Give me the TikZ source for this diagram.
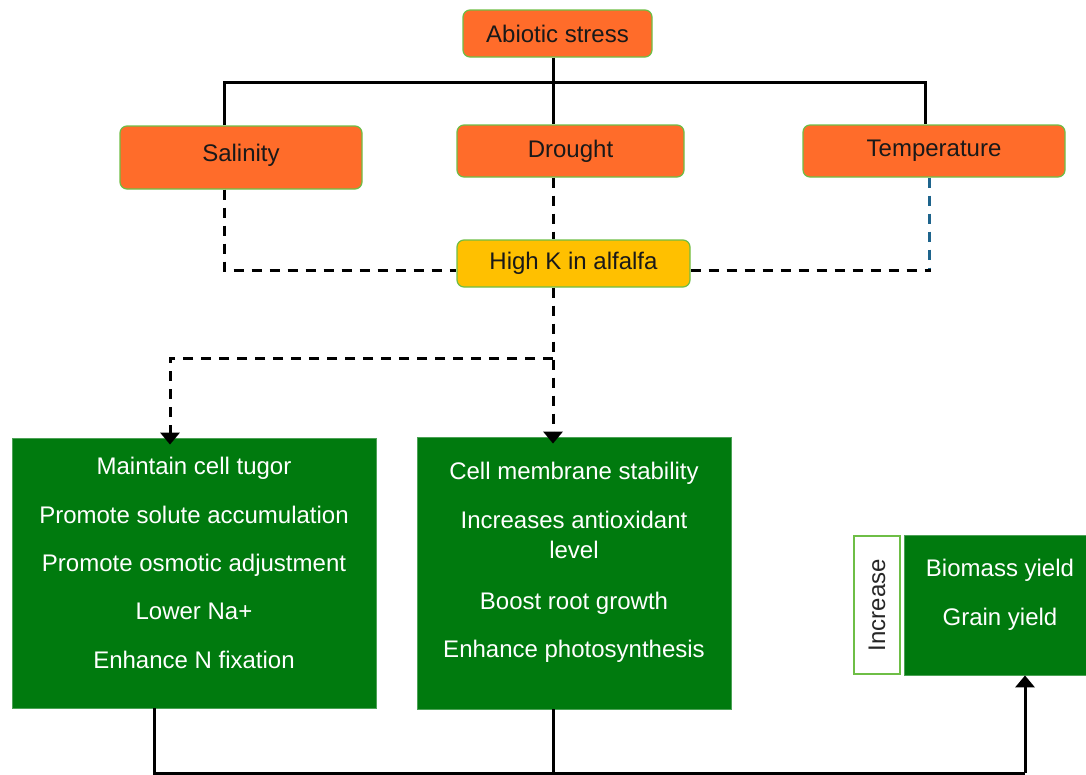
\documentclass[tikz,border=0pt]{standalone}
\usepackage{fontspec}
\setmainfont{Liberation Sans}
\usetikzlibrary{arrows.meta}
\definecolor{orng}{RGB}{255,108,42}
\definecolor{bord}{RGB}{110,190,70}
\definecolor{yell}{RGB}{255,192,0}
\definecolor{grn}{RGB}{0,122,14}
\definecolor{tblue}{RGB}{30,100,140}
\tikzset{
  obox/.style={draw=bord, line width=1.2pt, fill=orng, rounded corners=7pt, font=\fontsize{24}{28}\selectfont, text=black!90, inner sep=0pt},
  ybox/.style={draw=bord, line width=1.2pt, fill=yell, rounded corners=7pt, font=\fontsize{24}{28}\selectfont, text=black!90, inner sep=0pt},
  gbox/.style={fill=grn, draw=grn!70!white, line width=0.8pt, inner sep=0pt},
  gtext/.style={text=white, align=center, font=\fontsize{24}{30}\selectfont, inner sep=0pt},
  conn/.style={line width=3pt, black},
  dconn/.style={line width=3pt, black, dash pattern=on 10pt off 8pt},
  tip/.style={-{Triangle[width=19pt,length=12pt]}}
}
\begin{document}
\begin{tikzpicture}[x=1pt,y=-1pt]
\useasboundingbox (0,0) rectangle (1086,774);
% top
\node[obox, minimum width=189pt, minimum height=47pt] (abi) at (557.5,33.5) {Abiotic stress};
\node[obox, minimum width=242pt, minimum height=63pt] (sal) at (241,157.5) {\raisebox{10pt}{Salinity}};
\node[obox, minimum width=227pt, minimum height=52pt] (dro) at (570.5,151) {\raisebox{3pt}{Drought}};
\node[obox, minimum width=262pt, minimum height=52pt] (tem) at (934,151) {\raisebox{3pt}{Temperature}};
\node[ybox, minimum width=233pt, minimum height=47pt] (hk) at (573.5,263.5) {High K in alfalfa};
% green boxes
\node[gbox, minimum width=364pt, minimum height=270pt] (g1) at (194,573) {};
\node[gbox, minimum width=314pt, minimum height=272pt] (g2) at (574,573) {};
\node[gbox, minimum width=186pt, minimum height=140pt] (g3) at (997,605) {};
\node[draw=bord, line width=1.2pt, fill=white, minimum width=46pt, minimum height=138pt, inner sep=0pt] (inc) at (877,605) {};
\node[rotate=90, font=\fontsize{24}{28}\selectfont, text=black!85] (inctext) at (inc.center) {Increase};
\node[gtext] (t1) at (194,563) {Maintain cell tugor\\[19pt]Promote solute accumulation\\[18pt]Promote osmotic adjustment\\[18pt]Lower Na+\\[19pt]Enhance N fixation};
\node[gtext] (t2) at (574,562) {Cell membrane stability\\[19pt]Increases antioxidant\\level\\[21pt]Boost root growth\\[18pt]Enhance photosynthesis};
\node[gtext] (t3) at (1000,595) {Biomass yield\\[19pt]Grain yield};
% coordinates
\coordinate (xa) at (553,0);
\coordinate (xs) at (224,0);
\coordinate (xt) at (925,0);
\coordinate (hy) at (0,82);
\coordinate (dy) at (0,270);
\coordinate (sp) at (553,358);
\coordinate (lft) at (170,358);
\coordinate (xb) at (1025,0);
\coordinate (by) at (0,773);
\coordinate (tc) at (929,270);
% solid tree
\draw[conn] (abi.south -| xa) -- (dro.north -| xa);
\draw[conn] (sal.north -| xs) -- (xs |- hy) -- (xt |- hy) -- (tem.north -| xt);
% dashed to high K
\draw[dconn] (sal.south -| xs) -- (xs |- dy) -- (hk.west |- dy);
\draw[dconn] (dro.south -| xa) -- (hk.north -| xa);
\draw[dconn, tblue] (tem.south -| tc) -- (tc);
\draw[dconn] (hk.east |- dy) -- ([xshift=1.5pt]tc);
% dashed from high K
\draw[dconn, tip] (hk.south -| xa) -- (sp) -- ([yshift=-7pt]g2.north -| xa);
\draw[dconn, tip] (sp) -- (lft) -- ([yshift=-7pt]g1.north -| lft);
% bottom
\draw[conn] (g1.south -| 154,0) -- (154,773) -- (xb |- by);
\draw[conn] (g2.south -| xa) -- (xa |- by);
\draw[conn, tip] (xb |- by) -- (g3.south -| xb);
\end{tikzpicture}
\end{document}
